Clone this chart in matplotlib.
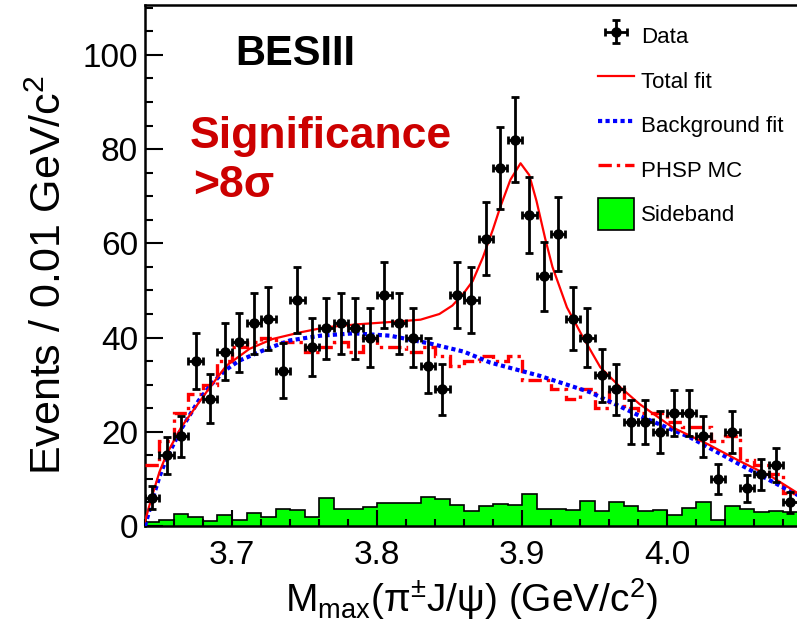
import numpy as np
import matplotlib
matplotlib.use('Agg')
import matplotlib.pyplot as plt
from matplotlib.patches import Patch
from matplotlib.lines import Line2D
from matplotlib.ticker import MultipleLocator, FixedLocator, FormatStrFormatter

plt.rcParams['font.family'] = ['Liberation Sans', 'DejaVu Sans']
plt.rcParams['mathtext.fontset'] = 'custom'
plt.rcParams['mathtext.rm'] = 'Liberation Sans'
plt.rcParams['mathtext.it'] = 'Liberation Sans:italic'

# binning: 0.01 GeV bins starting at 3.64
bin_lo = 3.64
bin_w = 0.01

data_counts = [6, 15, 19, 35, 27, 37, 39, 43, 44, 33,
               48, 38, 42, 43, 42, 40, 49, 43, 40, 34,
               29, 49, 48, 61, 76, 82, 66, 53, 62, 44,
               40, 32, 29, 22, 22, 20, 24, 24, 19, 10,
               20, 8, 11, 13, 5]

sideband_counts = [0.9, 1.3, 2.5, 2.0, 1.0, 2.3, 1.3, 2.8, 2.0, 3.6,
                   3.4, 2.0, 6.0, 3.7, 3.7, 4.0, 4.9, 4.9, 4.9, 6.1,
                   5.8, 4.4, 3.1, 4.3, 4.7, 4.5, 6.8, 3.7, 3.7, 3.5,
                   5.4, 3.1, 5.0, 4.3, 3.1, 3.5, 2.3, 3.8, 5.0, 1.3,
                   4.3, 3.6, 2.9, 3.1, 3.0]

phsp_counts = [13, 18, 24, 28, 30, 35, 38, 39, 40, 39,
               39, 37, 38, 39, 37, 40, 38, 38, 37, 38,
               36, 34, 35, 36, 35, 36, 31, 31, 29, 27,
               29, 25, 29, 25, 24, 24, 22, 21, 21, 18,
               19, 14, 13, 11, 7]

bkg_x = [3.640, 3.645, 3.650, 3.655, 3.665, 3.677, 3.685, 3.695, 3.705, 3.724,
         3.740, 3.761, 3.784, 3.809, 3.837, 3.860, 3.878, 3.912, 3.947, 3.981,
         4.016, 4.050, 4.085, 4.100]
bkg_y = [0.0, 5.5, 10.5, 14.5, 20.6, 26.6, 29.8, 33.0, 35.1, 37.6,
         39.4, 40.4, 40.9, 40.4, 38.7, 37.0, 34.7, 31.9, 28.4, 23.4,
         18.8, 13.1, 7.4, 5.0]

tot_x = [3.640, 3.645, 3.650, 3.655, 3.665, 3.683, 3.696, 3.712, 3.728, 3.747,
         3.765, 3.786, 3.809, 3.830, 3.843, 3.852, 3.860, 3.866, 3.873, 3.880,
         3.885, 3.892, 3.899, 3.905, 3.910, 3.916, 3.921, 3.931, 3.942, 3.954,
         3.968, 3.981, 4.004, 4.028, 4.050, 4.073, 4.090, 4.100]
tot_y = [1.0, 6.5, 11.5, 15.3, 21.0, 28.7, 34.0, 37.6, 39.7, 41.1,
         42.2, 42.8, 43.3, 43.8, 45.0, 46.8, 49.5, 52.0, 57.0, 63.0,
         67.7, 73.5, 77.0, 74.5, 69.0, 61.0, 55.0, 46.4, 40.1, 33.7,
         29.4, 25.9, 20.9, 17.4, 13.8, 10.3, 7.0, 5.5]

x_ticks = [3.7, 3.8, 3.9, 4.0]

edges = bin_lo + bin_w * np.arange(len(data_counts) + 1)
centers = edges[:-1] + bin_w / 2
data_counts = np.array(data_counts, dtype=float)

fig = plt.figure(figsize=(7.97, 6.28), dpi=100)
ax = fig.add_axes([145 / 797, 1 - 526 / 628, 667 / 797, 521 / 628])

# sideband histogram
ax.stairs(sideband_counts, edges, fill=True, color='#00ff00', linewidth=0, zorder=1)
ax.stairs(sideband_counts, edges, color='black', linewidth=1.2, zorder=2)

# PHSP MC
ax.stairs(phsp_counts, edges, color='red', linewidth=2.4,
          linestyle=(0, (4, 1.5, 1, 1.5)), baseline=None, zorder=3)
# background fit
ax.plot(bkg_x, bkg_y, color='blue', linewidth=3, linestyle=(0, (1, 0.8)), zorder=4)
# total fit
ax.plot(tot_x, tot_y, color='red', linewidth=1.6, zorder=5)
# data
eb = ax.errorbar(centers, data_counts, yerr=np.sqrt(data_counts), xerr=bin_w / 2,
                 fmt='o', color='black', ms=6.5, elinewidth=2, capsize=3, capthick=2,
                 zorder=6)

ax.set_xlim(3.64, 4.10)
ax.set_ylim(0, 110.6)

ax.xaxis.set_major_locator(FixedLocator(x_ticks))
ax.xaxis.set_minor_locator(MultipleLocator(0.02))
ax.xaxis.set_major_formatter(FormatStrFormatter('%.1f'))
ax.yaxis.set_major_locator(MultipleLocator(20))
ax.yaxis.set_minor_locator(MultipleLocator(5))

ax.tick_params(axis='both', which='both', direction='in', width=1.5, colors='black',
               labelsize=24)
ax.tick_params(axis='x', which='major', length=11.5, pad=10)
ax.tick_params(axis='x', which='minor', length=5)
ax.tick_params(axis='y', which='major', length=13, pad=5)
ax.tick_params(axis='y', which='minor', length=5.8)
for s in ax.spines.values():
    s.set_linewidth(1.8)

fig.text(472 / 797, 1 - 612 / 628,
         'M$_{\\mathrm{max}}$(π$^{\\pm}$J/ψ) (GeV/c$^{2}$)',
         ha='center', va='baseline', fontsize=28)
fig.text(50 / 797, 1 - 275 / 628, 'Events / 0.01 GeV/c$^{2}$', rotation=90,
         ha='center', va='center', fontsize=31)

fig.text(235 / 797, 1 - 65 / 628, 'BESIII', fontsize=30, fontweight='bold',
         color='black')
fig.text(190 / 797, 1 - 148 / 628, 'Significance', fontsize=32, fontweight='bold',
         color='#cc0000')
fig.text(193 / 797, 1 - 197 / 628, '>8σ', fontsize=32, fontweight='bold',
         color='#cc0000')

handles = [eb,
           Line2D([], [], color='red', linewidth=1.6),
           Line2D([], [], color='blue', linewidth=3, linestyle=(0, (1, 0.8))),
           Line2D([], [], color='red', linewidth=2.4, linestyle=(0, (4, 1.5, 1, 1.5))),
           Patch(facecolor='#00ff00', edgecolor='black', linewidth=1.2)]
labels = ['Data', 'Total fit', 'Background fit', 'PHSP MC', 'Sideband']
ax.legend(handles, labels, loc='upper left', bbox_to_anchor=(598 / 797, 1 - 20 / 628),
          bbox_transform=fig.transFigure, frameon=False, fontsize=16,
          handlelength=1.6, handleheight=1.84, labelspacing=0.56, handletextpad=0.35,
          borderpad=0, borderaxespad=0)

fig.savefig('out.png', dpi=100)
